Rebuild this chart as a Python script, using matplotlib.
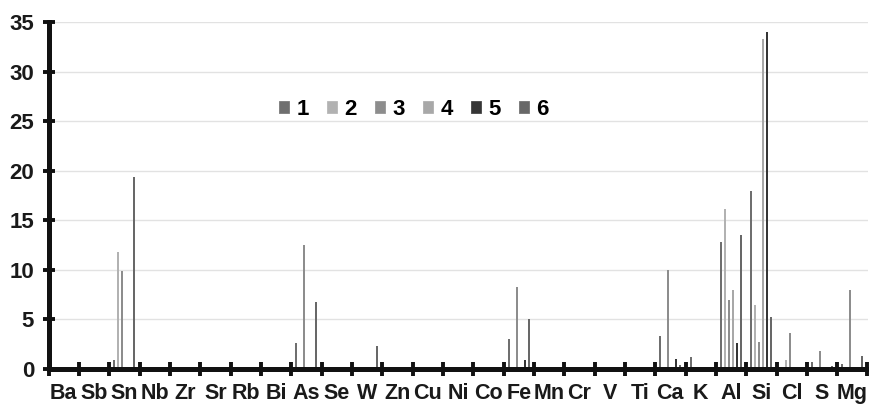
import matplotlib

matplotlib.use("Agg")
import matplotlib.pyplot as plt
from matplotlib.lines import Line2D
import numpy as np

plt.rcParams["font.family"] = ["Liberation Sans", "DejaVu Sans"]
plt.rcParams["font.weight"] = "bold"

elements = ["Ba", "Sb", "Sn", "Nb", "Zr", "Sr", "Rb", "Bi", "As", "Se", "W", "Zn",
            "Cu", "Ni", "Co", "Fe", "Mn", "Cr", "V", "Ti", "Ca", "K", "Al", "Si",
            "Cl", "S", "Mg"]

#         Ba   Sb  Sn    Nb Zr Sr Rb Bi As    Se W    Zn Cu Ni Co Fe   Mn Cr V  Ti Ca    K    Al    Si    Cl   S    Mg
s1 = [0,   0,  0.9,  0, 0, 0, 0, 0, 2.6,  0, 0,   0, 0, 0, 0, 3.0, 0, 0, 0, 0, 3.3,  1.2, 12.8, 18.0, 0,   0.7, 0.5]
s2 = [0,   0,  11.8, 0, 0, 0, 0, 0, 0,    0, 0,   0, 0, 0, 0, 0,   0, 0, 0, 0, 0,    0,   16.1, 6.5,  0.9, 0,   0]
s3 = [0.2, 0,  9.9,  0, 0, 0, 0, 0, 12.5, 0, 0,   0, 0, 0, 0, 8.3, 0, 0, 0, 0, 10.0, 0,   7.0,  2.7,  3.6, 1.8, 8.0]
s4 = [0,   0,  0,    0, 0, 0, 0, 0, 0,    0, 0,   0, 0, 0, 0, 0,   0, 0, 0, 0, 0,    0,   8.0,  33.3, 0,   0,   0]
s5 = [0,   0,  0,    0, 0, 0, 0, 0, 0,    0, 0,   0, 0, 0, 0, 0.9, 0, 0, 0, 0, 1.0,  0,   2.6,  34.0, 0,   0,   0]
s6 = [0,   0,  19.4, 0, 0, 0, 0, 0, 6.8,  0, 2.3, 0, 0, 0, 0, 5.0, 0, 0, 0, 0, 0.4,  0,   13.5, 5.2,  0,   0.3, 1.3]

series = [s1, s2, s3, s4, s5, s6]
labels = ["1", "2", "3", "4", "5", "6"]
colors = ["#6f6f6f", "#b2b2b2", "#8d8d8d", "#a8a8a8", "#363636", "#686868"]

fig = plt.figure(figsize=(8.69, 4.09), dpi=100)
ax = fig.add_axes([48.6 / 869, 40 / 409, (867.5 - 48.6) / 869, 347 / 409])

x = np.arange(len(elements))
step = 0.132
for k, vals in enumerate(series):
    ax.bar(x + (k - 2.5) * step, vals, width=0.065, color=colors[k], zorder=3)

ax.set_xlim(-0.5, len(elements) - 0.5)
ax.set_ylim(0, 35)
ax.set_yticks(np.arange(0, 36, 5))
ax.set_xticks(x)
ax.set_xticklabels(elements)
ax.set_xticks(np.arange(-0.5, len(elements), 1), minor=True)

ax.tick_params(axis="x", which="major", length=0, pad=10, labelsize=15.5,
               labelcolor="#1a1a1a")
ax.tick_params(axis="x", which="minor", direction="inout", length=10, width=2.8,
               color="#111111")
ax.tick_params(axis="y", direction="inout", length=9, width=2.8, pad=6,
               labelsize=16, labelcolor="#1a1a1a", color="#111111")

for side in ["top", "right"]:
    ax.spines[side].set_visible(False)
for side in ["left", "bottom"]:
    ax.spines[side].set_linewidth(3.6)
    ax.spines[side].set_color("#111111")
    ax.spines[side].set_zorder(4)

ax.yaxis.grid(True, color="#e2e2e2", linewidth=1)
ax.set_axisbelow(True)

# legend swatches: small near-square blocks
swatch = [(-0.42, -0.5), (0.42, -0.5), (0.42, 0.5), (-0.42, 0.5), (-0.42, -0.5)]
handles = [Line2D([], [], linestyle="none", marker=swatch, markersize=8.5,
                  markerfacecolor=c, markeredgecolor=c, markeredgewidth=0.5)
           for c in colors]
ax.legend(handles, labels, loc="center", bbox_to_anchor=(0.476, 0.733),
          bbox_transform=fig.transFigure, ncol=6, frameon=False,
          handlelength=0.5, handletextpad=0.3,
          columnspacing=0.8, prop={"weight": "bold", "size": 16})

fig.savefig("out.png", dpi=100)
